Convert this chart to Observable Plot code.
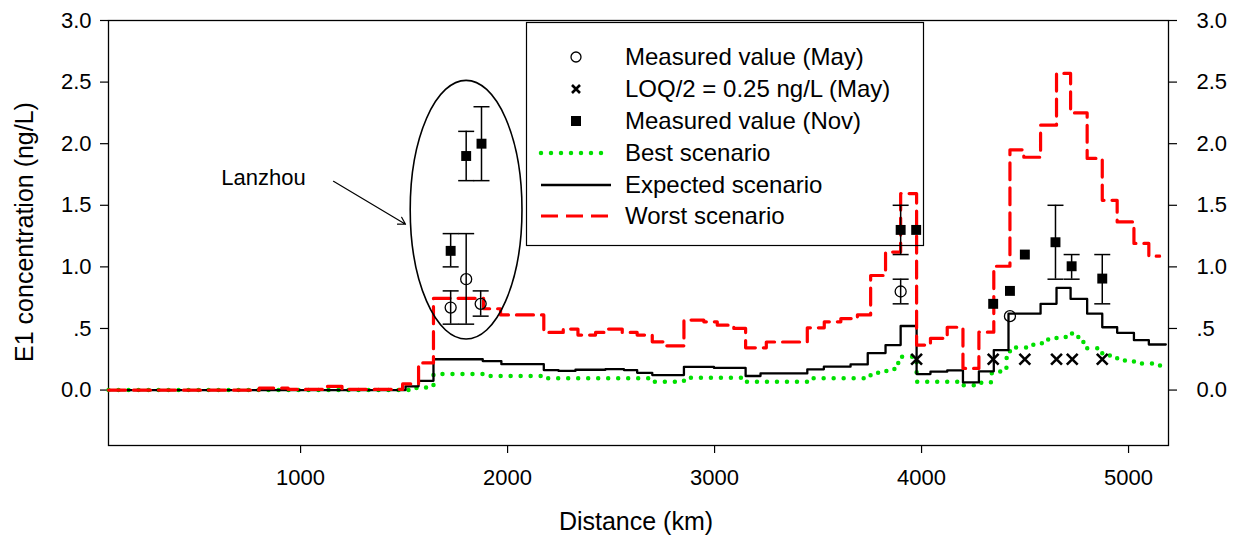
<!DOCTYPE html>
<html><head><meta charset="utf-8">
<script src="https://cdn.jsdelivr.net/npm/d3@7"></script>
<script src="https://cdn.jsdelivr.net/npm/@observablehq/plot@0.6"></script>
<style>
body{margin:0;background:#fff;}
svg{display:block;}
</style>
</head><body><div id="chart"></div>
<script>
// ---- data ----
const xTicks = [1000, 2000, 3000, 4000, 5000];
const yTicks = [0, 0.5, 1.0, 1.5, 2.0, 2.5, 3.0];
const yTickLabels = ["0.0", ".5", "1.0", "1.5", "2.0", "2.5", "3.0"];

const worstD = [72,800,940,1130,1200,1493,1570,1642,1884,1966,2175,2269,2340,2425,2481,2554,2626,2699,2763,2852,2948,3013,3093,3150,3250,3448,3530,3610,3690,3754,3826,3899,3976,4043,4124,4200,4277,4349,4427,4494,4575,4652,4720,4800,4873,4945,5026,5098,5150];
const worstV = [0.0,0.015,0.005,0.03,0.005,0.05,0.22,0.745,0.66,0.61,0.468,0.495,0.446,0.468,0.495,0.468,0.446,0.392,0.359,0.568,0.554,0.527,0.50,0.343,0.39,0.505,0.554,0.58,0.61,0.93,1.12,1.595,0.365,0.42,0.51,0.176,0.47,1.005,1.95,1.89,2.15,2.57,2.25,1.88,1.54,1.365,1.19,1.087,1.087];

const expectedD = [72,1507,1570,1642,1880,1970,2175,2246,2328,2473,2562,2626,2699,2852,2997,3150,3222,3448,3528,3657,3740,3826,3899,3976,4043,4124,4200,4277,4349,4420,4575,4652,4720,4800,4873,4945,5026,5098,5180];
const expectedV = [0.0,0.03,0.075,0.25,0.235,0.21,0.162,0.155,0.165,0.17,0.162,0.14,0.122,0.189,0.18,0.114,0.135,0.168,0.19,0.208,0.30,0.365,0.52,0.13,0.149,0.16,0.062,0.152,0.324,0.62,0.70,0.83,0.74,0.62,0.51,0.465,0.405,0.37,0.37];

const bestD = [72,1560,1642,1900,2175,2699,2852,3150,3448,3740,3790,3830,3870,3899,3976,4200,4277,4335,4380,4410,4427,4540,4600,4652,4700,4740,4770,4800,4873,4945,5026,5120,5190];
const bestV = [0.0,0.02,0.13,0.115,0.095,0.068,0.10,0.068,0.095,0.12,0.15,0.17,0.22,0.27,0.068,0.04,0.06,0.137,0.18,0.26,0.346,0.38,0.41,0.43,0.46,0.43,0.39,0.34,0.28,0.24,0.216,0.20,0.19];

const mayD  = [1725, 1800, 1870, 3899, 4427];
const mayV  = [0.67, 0.90, 0.70, 0.80, 0.60];
const mayLo = [0.535, 0.535, 0.60, 0.70, null];
const mayHi = [0.805, 1.27, 0.805, 0.90, null];

const loqD = [3976, 4346, 4499, 4652, 4728, 4873];
const loqV = [0.25, 0.25, 0.25, 0.25, 0.25, 0.25];

const novD  = [1725, 1800, 1874, 3899, 3974, 4346, 4427, 4499, 4647, 4725, 4873];
const novV  = [1.13, 1.90, 2.00, 1.30, 1.30, 0.70, 0.805, 1.10, 1.20, 1.005, 0.905];
const novLo = [1.0, 1.70, 1.70, 1.10, null, null, null, null, 0.90, 0.90, 0.70];
const novHi = [1.27, 2.10, 2.30, 1.50, null, null, null, null, 1.50, 1.10, 1.10];

const legendLabels = ["Measured value (May)", "LOQ/2 = 0.25 ng/L (May)", "Measured value (Nov)", "Best scenario", "Expected scenario", "Worst scenario"];

// annotation (Lanzhou)
const lanzhouText = {d: 821, v: 1.72, label: "Lanzhou"};
const lanzhouArrow = {d1: 1159, v1: 1.695, d2: 1507, v2: 1.346};
const lanzhouEllipse = {d: 1802, v: 1.46, rd: 270, rv: 1.05};

// ---- build tables ----
const zip = (xs, ys) => xs.map((x, i) => ({x, y: ys[i]}));
const worst = zip(worstD, worstV);
const expected = zip(expectedD, expectedV);
const best = zip(bestD, bestV);
const may = mayD.map((x, i) => ({x, y: mayV[i], lo: mayLo[i], hi: mayHi[i]}));
const nov = novD.map((x, i) => ({x, y: novV[i], lo: novLo[i], hi: novHi[i]}));
const loq = zip(loqD, loqV);
const bars = [...may, ...nov].filter(d => d.lo != null);
const caps = bars.flatMap(d => [{x: d.x, y: d.lo}, {x: d.x, y: d.hi}]);

const capSymbol = {draw(ctx) { ctx.moveTo(-8, 0); ctx.lineTo(8, 0); }};
const font = "'Liberation Sans', Arial, sans-serif";

const plot = Plot.plot({
  width: 1237, height: 535,
  marginLeft: 108, marginRight: 69, marginTop: 20, marginBottom: 90,
  style: {fontFamily: font, fontSize: "22px", color: "#000", background: "#fff", overflow: "visible"},
  x: {domain: [72, 5193]},
  y: {domain: [-0.45, 3.0]},
  marks: [
    Plot.frame({stroke: "#000", strokeWidth: 1.3}),
    Plot.axisX({ticks: xTicks, tickFormat: d => String(d), tickSize: 8, tickPadding: 16, label: null, fontSize: 22, strokeWidth: 1.2}),
    Plot.axisY({anchor: "left", ticks: yTicks, tickFormat: d => yTickLabels[yTicks.indexOf(d)], tickSize: 8, tickPadding: 9, label: null, fontSize: 22, strokeWidth: 1.2}),
    Plot.axisY({anchor: "right", ticks: yTicks, tickFormat: d => yTickLabels[yTicks.indexOf(d)], tickSize: 8, tickPadding: 20, label: null, fontSize: 22, strokeWidth: 1.2}),
    Plot.line(best, {x: "x", y: "y", curve: "step-after", stroke: "#00e000", strokeWidth: 4.5, strokeDasharray: "0 10", strokeLinecap: "round"}),
    Plot.line(expected, {x: "x", y: "y", curve: "step-after", stroke: "#000", strokeWidth: 2.3}),
    Plot.line(worst, {x: "x", y: "y", curve: "step-after", stroke: "#ff0000", strokeWidth: 3.2, strokeDasharray: "17 8"}),
    Plot.ruleX(bars, {x: "x", y1: "lo", y2: "hi", stroke: "#000", strokeWidth: 1.5}),
    Plot.dot(caps, {x: "x", y: "y", symbol: capSymbol, stroke: "#000", strokeWidth: 1.5, r: 5}),
    Plot.dot(may, {x: "x", y: "y", symbol: "circle", r: 5.5, stroke: "#000", strokeWidth: 1.3, fill: "none"}),
    Plot.dot(nov, {x: "x", y: "y", symbol: "square", r: 5.6, fill: "#000", stroke: "none"}),
    Plot.dot(loq, {x: "x", y: "y", symbol: "times", r: 5, stroke: "#000", strokeWidth: 2.6}),
    Plot.text([lanzhouText], {x: "d", y: "v", text: "label", fontSize: 22, fill: "#000"}),
    Plot.arrow([lanzhouArrow], {x1: "d1", y1: "v1", x2: "d2", y2: "v2", stroke: "#000", strokeWidth: 1.2, headLength: 10, bend: 0})
  ]
});

const sx = plot.scale("x"), sy = plot.scale("y");
const svg = d3.select(plot);

// ellipse around Lanzhou points
const ecx = sx.apply(lanzhouEllipse.d), ecy = sy.apply(lanzhouEllipse.v);
svg.append("ellipse")
  .attr("cx", ecx).attr("cy", ecy)
  .attr("rx", Math.abs(sx.apply(lanzhouEllipse.d + lanzhouEllipse.rd) - ecx))
  .attr("ry", Math.abs(sy.apply(lanzhouEllipse.v + lanzhouEllipse.rv) - ecy))
  .attr("fill", "none").attr("stroke", "#000").attr("stroke-width", 1.6);

// legend box
const lg = svg.append("g").attr("font-family", font).attr("font-size", 24).attr("text-anchor", "start");
lg.append("rect").attr("x", 526.5).attr("y", 22.5).attr("width", 397).attr("height", 223)
  .attr("fill", "none").attr("stroke", "#000").attr("stroke-width", 1.2);
const rowY = [57, 89, 121, 153, 185, 216];
const sxL = 576;
lg.append("circle").attr("cx", sxL).attr("cy", rowY[0]).attr("r", 5).attr("fill", "none").attr("stroke", "#000").attr("stroke-width", 1.3);
lg.append("path").attr("d", `M${sxL-4},${rowY[1]-4}L${sxL+4},${rowY[1]+4}M${sxL-4},${rowY[1]+4}L${sxL+4},${rowY[1]-4}`).attr("stroke", "#000").attr("stroke-width", 2.6);
lg.append("rect").attr("x", sxL-5).attr("y", rowY[2]-5).attr("width", 10).attr("height", 10).attr("fill", "#000");
lg.append("line").attr("x1", 541).attr("x2", 611).attr("y1", rowY[3]).attr("y2", rowY[3]).attr("stroke", "#00e000").attr("stroke-width", 4.5).attr("stroke-dasharray", "0 10").attr("stroke-linecap", "round");
lg.append("line").attr("x1", 541).attr("x2", 611).attr("y1", rowY[4]).attr("y2", rowY[4]).attr("stroke", "#000").attr("stroke-width", 2.3);
lg.append("line").attr("x1", 541).attr("x2", 611).attr("y1", rowY[5]).attr("y2", rowY[5]).attr("stroke", "#ff0000").attr("stroke-width", 3.2).attr("stroke-dasharray", "17 8");
legendLabels.forEach((t, i) => {
  lg.append("text").attr("x", 625).attr("y", rowY[i]).attr("dy", "0.35em").attr("fill", "#000").attr("text-anchor", "start").text(t);
});

// axis titles
svg.append("text").attr("transform", "translate(24,232) rotate(-90)").attr("text-anchor", "middle")
  .attr("font-family", font).attr("font-size", 25).attr("fill", "#000").attr("dy", "0.35em").text("E1 concentration (ng/L)");
svg.append("text").attr("x", 636).attr("y", 521).attr("text-anchor", "middle")
  .attr("font-family", font).attr("font-size", 25).attr("fill", "#000").attr("dy", "0.35em").text("Distance (km)");

document.getElementById("chart").appendChild(plot);
</script>
</body></html>
